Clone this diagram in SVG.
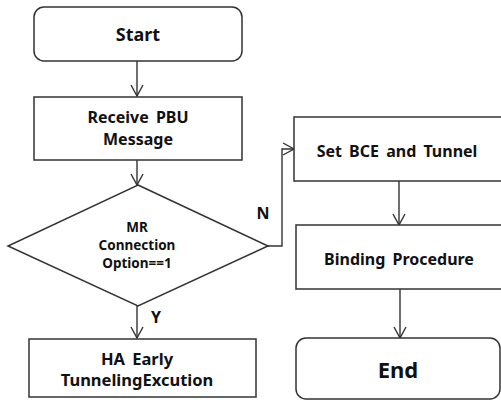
<svg xmlns="http://www.w3.org/2000/svg" width="501" height="400" viewBox="0 0 501 400">
<style>
.box{fill:#fff;stroke:#333;stroke-width:1.5}
.t{font-family:"Noto Sans","DejaVu Sans",sans-serif;font-weight:bold;fill:#111;text-anchor:middle}
.c{fill:none;stroke:#333;stroke-width:1.4}
</style>
<defs>
<marker id="a" markerWidth="14" markerHeight="14" refX="12" refY="7" orient="auto" markerUnits="userSpaceOnUse">
<path d="M1,1 L12,7 L1,13" fill="none" stroke="#333" stroke-width="1.4"/>
</marker>
</defs>
<rect width="501" height="400" fill="#fff"/>
<g id="connectors">
<line class="c" x1="137" y1="61" x2="137" y2="96" marker-end="url(#a)"/>
<line class="c" x1="137" y1="160" x2="137" y2="185" marker-end="url(#a)"/>
<line class="c" x1="137" y1="306" x2="137" y2="338" marker-end="url(#a)"/>
<polyline class="c" points="268,246 282,246 282,149 294,149" marker-end="url(#a)"/>
<line class="c" x1="399" y1="181" x2="399" y2="225" marker-end="url(#a)"/>
<line class="c" x1="400" y1="289" x2="400" y2="338" marker-end="url(#a)"/>
<text class="t" x="263" y="219" font-size="16">N</text>
<text class="t" x="156" y="323" font-size="16">Y</text>
</g>
<g id="start">
<rect class="box" x="34" y="7" width="208" height="54" rx="10"/>
<text class="t" x="138" y="41" font-size="18">Start</text>
</g>
<g id="receive">
<rect class="box" x="34" y="97" width="208" height="63"/>
<text class="t" x="138" y="123" font-size="16" word-spacing="3">Receive PBU</text>
<text class="t" x="138" y="145" font-size="16">Message</text>
</g>
<g id="decision">
<polygon class="box" points="138,185 268,246 138,306 8,246"/>
<text class="t" x="137" y="232" font-size="13.5">MR</text>
<text class="t" x="137" y="250" font-size="13.5">Connection</text>
<text class="t" x="137" y="268" font-size="13.5">Option==1</text>
</g>
<g id="ha">
<rect class="box" x="29" y="339" width="227" height="58"/>
<text class="t" x="137" y="365" font-size="16.5" word-spacing="3">HA Early</text>
<text class="t" x="137" y="386" font-size="16.5">TunnelingExcution</text>
</g>
<g id="setbce">
<rect class="box" x="294" y="117" width="215" height="64"/>
<text class="t" x="397" y="157" font-size="16" word-spacing="3">Set BCE and Tunnel</text>
</g>
<g id="binding">
<rect class="box" x="296" y="225" width="215" height="64"/>
<text class="t" x="399" y="265" font-size="16" word-spacing="3">Binding Procedure</text>
</g>
<g id="end">
<rect class="box" x="296" y="338" width="204" height="61" rx="10"/>
<text class="t" x="398" y="378" font-size="22">End</text>
</g>
</svg>
